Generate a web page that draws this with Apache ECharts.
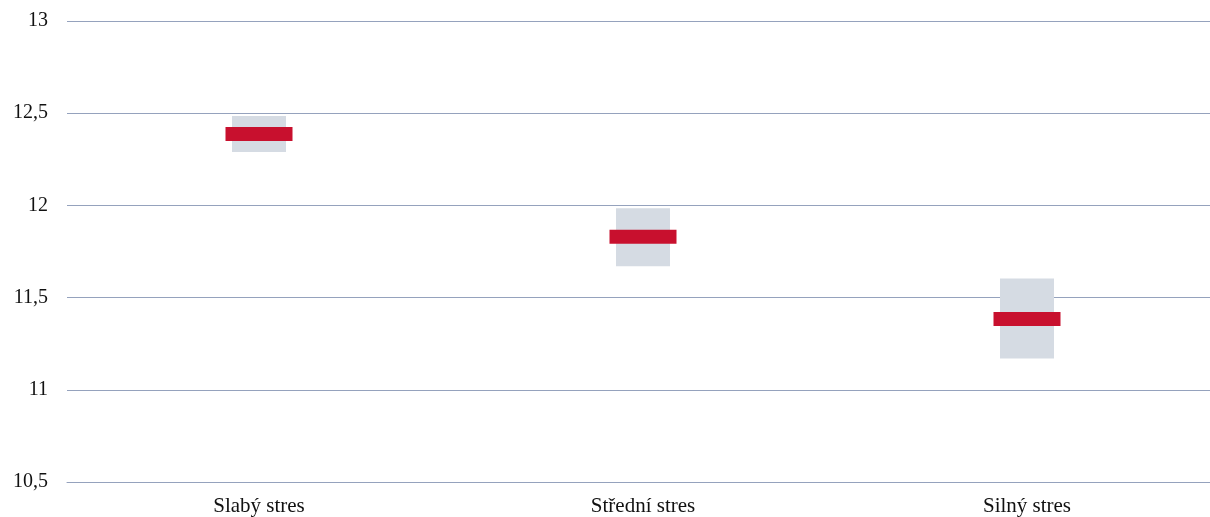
<!DOCTYPE html>
<html>
<head>
<meta charset="utf-8">
<script src="https://cdn.jsdelivr.net/npm/echarts@6/dist/echarts.min.js"></script>
<style>
  html, body { margin: 0; padding: 0; background: #fff; overflow: hidden; }
  #chart { width: 1210px; height: 517px; }
</style>
</head>
<body>
<div id="chart"></div>
<script>
// data
const categories = ['Slabý stres', 'Střední stres', 'Silný stres']
const rangeLow = [12.29, 11.67, 11.17]
const rangeHigh = [12.485, 11.985, 11.603]
const midValue = [12.387, 11.83, 11.384]

const gridColor = '#95a2bd'

const chart = echarts.init(document.getElementById('chart'))

const option = {
  animation: false,
  grid: {
    left: 67,
    width: 1152,
    top: 21,
    bottom: 35,
    outerBoundsMode: 'none',
    containLabel: false
  },
  xAxis: {
    type: 'category',
    data: categories,
    axisLine: { show: true, lineStyle: { color: gridColor, width: 1 } },
    axisTick: { show: false },
    axisLabel: {
      color: '#111',
      fontFamily: 'Liberation Serif',
      fontSize: 21,
      margin: 14
    }
  },
  yAxis: {
    type: 'value',
    min: 10.5,
    max: 13,
    interval: 0.5,
    axisLine: { show: false },
    axisTick: { show: false },
    splitLine: { lineStyle: { color: gridColor, width: 1 } },
    axisLabel: {
      color: '#111',
      fontFamily: 'Liberation Serif',
      fontSize: 20,
      margin: 19,
      padding: [3, 0, 0, 0],
      formatter: v => String(v).replace('.', ',')
    }
  },
  series: [
    {
      // neviditelný základ
      type: 'bar',
      stack: 'range',
      data: rangeLow,
      barWidth: 54,
      itemStyle: { color: 'transparent' },
      silent: true
    },
    {
      type: 'bar',
      stack: 'range',
      data: rangeHigh.map((h, i) => +(h - rangeLow[i]).toFixed(3)),
      barWidth: 54,
      itemStyle: { color: '#d5dbe3' }
    },
    {
      type: 'scatter',
      data: midValue,
      symbol: 'rect',
      symbolSize: [67, 14],
      itemStyle: { color: '#c8102e', opacity: 1 },
      z: 5
    }
  ]
}

chart.setOption(option)
</script>
</body>
</html>
